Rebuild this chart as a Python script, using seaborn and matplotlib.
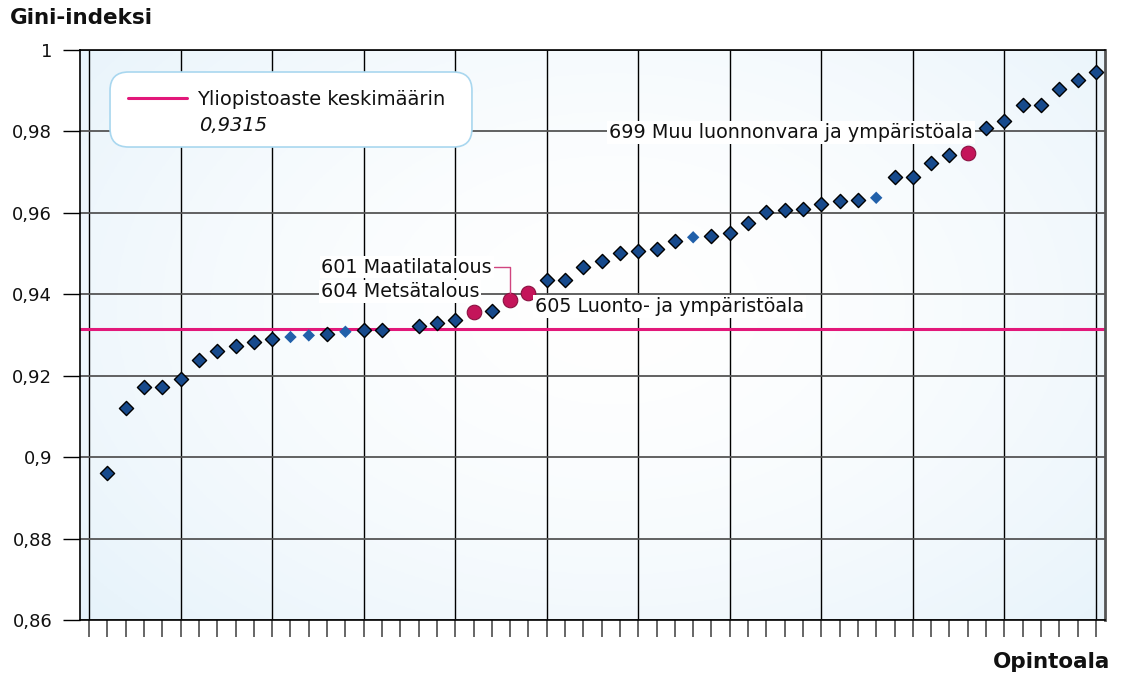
import numpy as np
import pandas as pd
import matplotlib
matplotlib.use("Agg")
import matplotlib.pyplot as plt
import seaborn as sns
from matplotlib.patches import FancyBboxPatch
from matplotlib.lines import Line2D
from matplotlib.ticker import FuncFormatter, MultipleLocator

# DATA (sorted by Gini index)
positions = list(range(1, 56))
gini = [0.8962, 0.9120, 0.9172, 0.9172, 0.9193, 0.9239, 0.9261, 0.9272, 0.9283, 0.9289,
        0.9295, 0.9299, 0.9303, 0.9308, 0.9312, 0.9313, np.nan, 0.9321, 0.9330, 0.9338,
        0.9357, 0.9360, 0.9385, 0.9403, 0.9435, 0.9436, 0.9467, 0.9482, 0.9501, 0.9506,
        0.9511, 0.9531, 0.9540, 0.9542, 0.9550, 0.9575, 0.9602, 0.9608, 0.9609, 0.9622,
        0.9630, 0.9631, 0.9637, 0.9687, 0.9689, 0.9722, 0.9741, 0.9748, 0.9809, 0.9825,
        0.9864, 0.9866, 0.9904, 0.9927, 0.9945]
light_pos = [11, 12, 14, 33, 43]
red_pos = [21, 23, 24, 48]
red_labels = ["604 Metsätalous", "601 Maatilatalous",
              "605 Luonto- ja ympäristöala", "699 Muu luonnonvara ja ympäristöala"]
avg_value = 0.9315
avg_label = "Yliopistoaste keskimäärin"
avg_text = "0,9315"

df = pd.DataFrame({"pos": positions, "gini": gini})
df["group"] = "perus"
df.loc[df["pos"].isin(light_pos), "group"] = "vaalea"
df.loc[df["pos"].isin(red_pos), "group"] = "valittu"
df = df.dropna()

# STYLE
sns.set_theme(style="white")
plt.rcParams["font.family"] = ["DejaVu Sans"]

fig = plt.figure(figsize=(11.22, 6.74), dpi=100)
ax = fig.add_axes([80 / 1122, 1 - 620 / 674, 1025 / 1122, 570 / 674])

# BACKGROUND GRADIENT
gx, gy = np.meshgrid(np.linspace(0, 1, 300), np.linspace(0, 1, 200))
r = np.sqrt(((gx - 0.52) / 0.75) ** 2 + ((gy - 0.45) / 0.9) ** 2)
r = np.clip(r, 0, 1) ** 1.6
edge = np.array([0.89, 0.945, 0.98])
img = np.ones((200, 300, 3)) * (1 - r[..., None]) + edge * r[..., None]
ax.imshow(img, extent=[0, 1, 0, 1], transform=ax.transAxes, aspect="auto", zorder=0)

# AVERAGE LINE
ax.axhline(avg_value, color="#e2187a", lw=2.2, zorder=2)

# POINTS
sns.scatterplot(data=df[df["group"] == "perus"], x="pos", y="gini", marker="D", s=52,
                color="#174a8c", edgecolor="black", linewidth=1, ax=ax, zorder=3)
sns.scatterplot(data=df[df["group"] == "vaalea"], x="pos", y="gini", marker="D", s=40,
                color="#2160aa", edgecolor="none", linewidth=0, ax=ax, zorder=3)
sns.scatterplot(data=df[df["group"] == "valittu"], x="pos", y="gini", marker="o", s=110,
                color="#c4155a", edgecolor="#8a1040", linewidth=0.8, ax=ax, zorder=3)

# LABELS FOR SELECTED FIELDS
red_df = df[df["group"] == "valittu"].reset_index(drop=True)
box = dict(boxstyle="square,pad=0.1", fc="white", ec="none")
offsets = [(4, 14.5, "right"), (-13, 24, "right"), (5, -9.5, "left"), (3.5, 14.5, "right")]
for i, lab in enumerate(red_labels):
    dx, dy, ha = offsets[i]
    kw = {}
    if lab.startswith("601"):
        kw["arrowprops"] = dict(arrowstyle="-", color="#d0457f", lw=1,
                                connectionstyle="angle,angleA=0,angleB=90,rad=0",
                                shrinkA=0, shrinkB=5)
    ax.annotate(lab, xy=(red_df.loc[i, "pos"], red_df.loc[i, "gini"]),
                xytext=(dx, dy), textcoords="offset points", ha=ha, va="center",
                fontsize=13.8, color="#111111", bbox=box, zorder=4, **kw)

# LEGEND BOX
ax.add_patch(FancyBboxPatch((0.0293, 0.8298), 0.3531, 0.1316, transform=ax.transAxes,
                            boxstyle="round,pad=0,rounding_size=0.018", fc="white",
                            ec="#a9d7ef", lw=1.2, zorder=5, mutation_aspect=1.8))
ax.add_line(Line2D([0.0468, 0.1044], [0.9158, 0.9158], transform=ax.transAxes,
                   color="#e2187a", lw=2.2, zorder=6))
ax.text(0.1141, 0.9130, avg_label, transform=ax.transAxes, fontsize=14,
        va="center", ha="left", color="#111111", zorder=6)
ax.text(0.1161, 0.8670, avg_text, transform=ax.transAxes, fontsize=14, style="italic",
        va="center", ha="left", color="#111111", zorder=6)

# AXES
ax.set_xlim(-0.5, 55.5)
ax.set_ylim(0.86, 1.0)
ax.xaxis.set_major_locator(MultipleLocator(5))
ax.xaxis.set_minor_locator(MultipleLocator(1))
ax.yaxis.set_major_locator(MultipleLocator(0.02))
ax.yaxis.set_major_formatter(FuncFormatter(
    lambda v, p: f"{v:.2f}".rstrip("0").rstrip(".").replace(".", ",")))
ax.set_xticklabels([])
ax.set_xlabel("")
ax.set_ylabel("")
ax.tick_params(axis="x", which="both", direction="out", length=12, width=1.4,
               color="#666666", bottom=True)
ax.tick_params(axis="y", direction="out", length=12, width=1, color="black",
               labelsize=13, pad=8, left=True, labelcolor="#111111")

ax.set_axisbelow(True)
ax.xaxis.grid(True, which="major", color="black", lw=1)
ax.yaxis.grid(True, color="#555555", lw=1.3)

for side in ["left", "bottom", "top"]:
    ax.spines[side].set_color("black")
    ax.spines[side].set_linewidth(1.2)
ax.spines["right"].set_color("#555555")
ax.spines["right"].set_linewidth(2)

fig.text(10 / 1122, 1 - 18 / 674, "Gini-indeksi", fontsize=15.5, fontweight="bold",
         ha="left", va="center", color="#111111")
fig.text(1110 / 1122, 1 - 662 / 674, "Opintoala", fontsize=15.5, fontweight="bold",
         ha="right", va="center", color="#111111")

fig.savefig("out.png", dpi=100)
